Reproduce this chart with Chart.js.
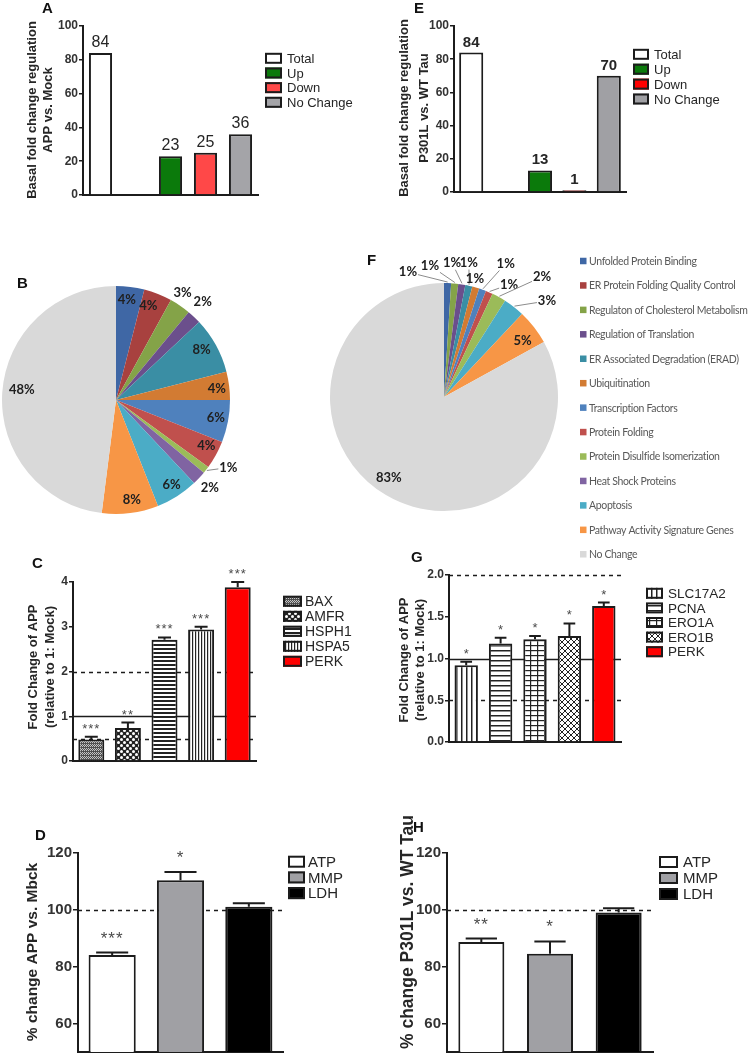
<!DOCTYPE html>
<html>
<head>
<meta charset="utf-8">
<script src="https://cdn.jsdelivr.net/npm/chart.js@4.4.1/dist/chart.umd.min.js"></script>
<style>
  html, body { margin: 0; padding: 0; background: #fff; }
  #fig { position: relative; width: 753px; height: 1062px; overflow: hidden; background: #fff; }
  #fig canvas { position: absolute; }
  .tag { position: absolute; font: bold 15px 'Liberation Sans', Arial, sans-serif; line-height: 15px; color: #111; }
</style>
</head>
<body>
<div id="fig">
  <canvas id="chartB" width="376" height="330" style="left:0;top:210px"></canvas>
  <canvas id="chartF" width="433" height="380" style="left:320px;top:210px"></canvas>
  <canvas id="chartA" width="376" height="210" style="left:0;top:0"></canvas>
  <canvas id="chartE" width="377" height="210" style="left:376px;top:0"></canvas>
  <canvas id="chartC" width="376" height="250" style="left:0;top:540px"></canvas>
  <canvas id="chartG" width="377" height="250" style="left:376px;top:540px"></canvas>
  <canvas id="chartD" width="376" height="272" style="left:0;top:790px"></canvas>
  <canvas id="chartH" width="377" height="272" style="left:376px;top:790px"></canvas>
  <div class="tag" style="left:42px;top:0">A</div>
  <div class="tag" style="left:414px;top:0">E</div>
  <div class="tag" style="left:17px;top:275px">B</div>
  <div class="tag" style="left:367px;top:252px">F</div>
  <div class="tag" style="left:32px;top:555px">C</div>
  <div class="tag" style="left:411px;top:549px">G</div>
  <div class="tag" style="left:35px;top:827px">D</div>
  <div class="tag" style="left:413px;top:819px">H</div>
</div>
<script>
// A / E: number of regulated genes (empty slot keeps the gap after "Total")
const countCats = ['Total', '', 'Up', 'Down', 'No Change'];
const countsApp = [84, null, 23, 25, 36];
const countsTau = [84, null, 13, 1, 70];
const countTicks = [0, 20, 40, 60, 80, 100];

// B / F: share of genes per pathway (%)
const pathways = ['Unfolded Protein Binding', 'ER Protein Folding Quality Control', 'Regulaton of Cholesterol Metabolism',
  'Regulation of Translation', 'ER Associated Degradation (ERAD)', 'Ubiquitination', 'Transcription Factors',
  'Protein Folding', 'Protein Disulfide Isomerization', 'Heat Shock Proteins', 'Apoptosis',
  'Pathway Activity Signature Genes', 'No Change'];
const shareApp = [4, 4, 3, 2, 8, 4, 6, 4, 1, 2, 6, 8, 48];
const shareTau = [1, 0, 1, 1, 1, 1, 1, 1, 2, 0, 3, 5, 83];

// C: qPCR fold change, APP
const genesApp = ['BAX', 'AMFR', 'HSPH1', 'HSPA5', 'PERK'];
const foldApp = [0.48, 0.74, 2.71, 2.94, 3.88];
const foldAppErr = [0.06, 0.12, 0.05, 0.06, 0.12];
const foldAppStars = ['***', '**', '***', '***', '***'];
const foldAppTicks = [0, 1, 2, 3, 4];

// G: qPCR fold change, P301L
const genesTau = ['SLC17A2', 'PCNA', 'ERO1A', 'ERO1B', 'PERK'];
const foldTau = [0.92, 1.18, 1.23, 1.27, 1.63];
const foldTauErr = [0.04, 0.07, 0.04, 0.15, 0.04];
const foldTauStars = ['*', '*', '*', '*', '*'];
const foldTauTicks = [0, 0.5, 1, 1.5, 2];

// reference lines for C / G (value, dashed?)
const foldRefs = [2, 1, 0.5];
const foldRefDashed = [true, false, true];

// D / H: mitochondrial assays
const assays = ['ATP', 'MMP', 'LDH'];
const pctApp = [84.1, 110.4, 101.1];
const pctAppErr = [0.9, 2.9, 1.2];
const pctAppStars = ['***', '*', ''];
const pctTau = [88.7, 84.6, 99.1];
const pctTauErr = [1.2, 4.3, 1.5];
const pctTauStars = ['**', '*', ''];
const pctTicks = [60, 80, 100, 120];
const pctRefs = [100];
const pctRefDashed = [true];

const SANS = "'Liberation Sans', Arial, sans-serif";
const INK = '#1c1c1c';

const pieColors = ['#3f67a5', '#a8413f', '#84a348', '#6b4f8c', '#3a8ea4', '#d27b33', '#4f81bd',
  '#c0504d', '#9bbb59', '#8064a2', '#4bacc6', '#f79646', '#d9d9d9'];

// small tiles for the hatched GraphPad bars
function tile(w, h, draw) {
  const c = document.createElement('canvas');
  c.width = w; c.height = h;
  const g = c.getContext('2d');
  g.fillStyle = '#fff';
  g.fillRect(0, 0, w, h);
  g.fillStyle = '#222';
  g.strokeStyle = '#222';
  draw(g);
  return g.createPattern(c, 'repeat');
}
const pat = {
  grain: tile(4, 4, g => {
    g.fillStyle = '#505050'; g.fillRect(0, 0, 4, 4);
    g.fillStyle = '#c4c4c4';
    [[0, 0], [2, 0], [1, 1], [3, 1], [0, 2], [2, 2]].forEach(p => g.fillRect(p[0], p[1], 1, 1));
  }),
  dots: tile(6, 6, g => {
    g.fillRect(0, 0, 6, 6);
    g.fillStyle = '#fff';
    [[1.5, 1.5], [4.5, 4.5]].forEach(p => { g.beginPath(); g.arc(p[0], p[1], 1.5, 0, Math.PI * 2); g.fill(); });
  }),
  hFine: tile(4, 4, g => g.fillRect(0, 0, 4, 2)),
  vFine: tile(3, 3, g => g.fillRect(0, 0, 1.2, 3)),
  vWide: tile(5, 5, g => g.fillRect(0, 0, 1.5, 5)),
  hWide: tile(5, 5, g => g.fillRect(0, 0, 5, 1.5)),
  grid: tile(7, 5, g => { g.fillRect(0, 0, 7, 1.2); g.fillRect(0, 0, 1.2, 5); }),
  cross: tile(6, 6, g => {
    g.lineWidth = 1;
    g.beginPath(); g.moveTo(0, 0); g.lineTo(6, 6); g.moveTo(6, 0); g.lineTo(0, 6);
    g.moveTo(-1, 5); g.lineTo(1, 7); g.moveTo(5, -1); g.lineTo(7, 1);
    g.stroke();
  })
};

// error bars, stars, value labels, reference lines, legend and y title for one bar panel
function decor(cfg) {
  return {
    id: 'decor',
    beforeDatasetsDraw(chart) {
      if (!cfg.refs) return;
      const {ctx, chartArea: a} = chart;
      const y = chart.scales.y;
      ctx.save();
      ctx.strokeStyle = INK;
      ctx.lineWidth = 1.5;
      cfg.refs.forEach((v, i) => {
        const py = Math.round(y.getPixelForValue(v)) + 0.5;
        ctx.setLineDash(cfg.refDashed[i] ? [4, 4] : []);
        ctx.beginPath(); ctx.moveTo(a.left, py); ctx.lineTo(a.right, py); ctx.stroke();
      });
      ctx.restore();
    },
    afterDraw(chart) {
      const {ctx} = chart;
      const y = chart.scales.y;
      const ds = chart.data.datasets[0];
      const bars = chart.getDatasetMeta(0).data;
      ctx.save();
      if (cfg.err) {
        ctx.strokeStyle = INK;
        ctx.lineWidth = 2;
        bars.forEach((bar, i) => {
          const top = y.getPixelForValue(ds.data[i] + cfg.err[i]);
          const half = bar.width * cfg.cap / 2;
          ctx.beginPath();
          ctx.moveTo(bar.x, bar.y); ctx.lineTo(bar.x, top);
          ctx.moveTo(bar.x - half, top); ctx.lineTo(bar.x + half, top);
          ctx.stroke();
        });
      }
      if (cfg.stars) {
        ctx.font = cfg.starFont;
        ctx.fillStyle = '#4a4a4a';
        ctx.textAlign = 'center';
        ctx.letterSpacing = cfg.starSpacing;
        bars.forEach((bar, i) => {
          if (!cfg.stars[i]) return;
          const top = y.getPixelForValue(ds.data[i] + cfg.err[i]);
          ctx.fillText(cfg.stars[i], bar.x, top - cfg.starGap);
        });
        ctx.letterSpacing = '0px';
      }
      if (cfg.valueFont) {
        ctx.font = cfg.valueFont;
        ctx.fillStyle = '#262626';
        ctx.textAlign = 'center';
        bars.forEach((bar, i) => {
          const v = ds.data[i];
          if (v == null) return;
          ctx.fillText(String(v), bar.x, bar.y - 6);
        });
      }
      const L = cfg.legend;
      let row = 0;
      chart.data.labels.forEach((lab, i) => {
        if (!lab) return;
        const cy = L.y + row * L.step;
        row++;
        ctx.fillStyle = ds.backgroundColor[i];
        ctx.fillRect(L.x, cy - L.h / 2, L.w, L.h);
        ctx.lineWidth = 2;
        ctx.strokeStyle = INK;
        ctx.strokeRect(L.x + 1, cy - L.h / 2 + 1, L.w - 2, L.h - 2);
        ctx.fillStyle = '#262626';
        ctx.font = L.font;
        ctx.textAlign = 'left';
        ctx.textBaseline = 'middle';
        ctx.fillText(lab, L.textX, cy + 1);
      });
      const T = cfg.title;
      ctx.font = T.font;
      ctx.fillStyle = '#262626';
      ctx.textAlign = 'center';
      ctx.textBaseline = 'middle';
      T.lines.forEach((line, k) => {
        ctx.save();
        ctx.translate(T.xs[k], T.cy);
        ctx.rotate(-Math.PI / 2);
        ctx.fillText(line, 0, 0);
        ctx.restore();
      });
      ctx.restore();
    }
  };
}

function barChart(id, cfg) {
  return new Chart(document.getElementById(id), {
    type: 'bar',
    data: {
      labels: cfg.labels,
      datasets: [{
        data: cfg.data,
        backgroundColor: cfg.fills,
        borderColor: INK,
        borderWidth: 2,
        barPercentage: cfg.barPct,
        categoryPercentage: 1
      }]
    },
    options: {
      responsive: false,
      animation: false,
      layout: { padding: cfg.pad },
      scales: {
        x: {
          grid: { display: true, drawOnChartArea: false, drawTicks: false },
          border: { display: true, color: INK, width: 2 },
          ticks: { display: false },
          afterFit: s => { s.height = 0; }
        },
        y: {
          min: cfg.min,
          max: cfg.max,
          afterBuildTicks: s => { s.ticks = cfg.ticks.map(v => ({ value: v })); },
          ticks: {
            font: { family: SANS, size: cfg.tickSize, weight: 'bold' },
            color: '#333',
            padding: 1,
            callback: v => cfg.decimals ? v.toFixed(cfg.decimals) : String(v)
          },
          grid: { drawOnChartArea: false, drawTicks: true, tickLength: cfg.tickLen || 4, color: INK, lineWidth: 1.5 },
          border: { display: true, color: INK, width: 2 },
          afterFit: s => { s.width = cfg.axisW; }
        }
      },
      plugins: { legend: { display: false }, tooltip: { enabled: false } }
    },
    plugins: [decor(cfg)]
  });
}

// percentage labels, leader lines and the shared pathway legend
function pieText(cfg) {
  return {
    id: 'pieText',
    afterDraw(chart) {
      const {ctx} = chart;
      const vals = chart.data.datasets[0].data;
      ctx.save();
      ctx.font = cfg.font;
      ctx.textAlign = 'center';
      ctx.textBaseline = 'middle';
      chart.getDatasetMeta(0).data.forEach((arc, i) => {
        if (!vals[i]) return;
        const mid = (arc.startAngle + arc.endAngle) / 2;
        const f = cfg.place[i][0];
        const ang = mid + cfg.place[i][1] * Math.PI / 180;
        const r = arc.outerRadius;
        const lx = arc.x + Math.cos(ang) * r * f;
        const ly = arc.y + Math.sin(ang) * r * f;
        if (cfg.leader[i]) {
          const ex = arc.x + Math.cos(mid) * (r + 1);
          const ey = arc.y + Math.sin(mid) * (r + 1);
          const dx = ex - lx, dy = ey - ly;
          const t = Math.min(10 / Math.abs(dx || 1e-6), 7 / Math.abs(dy || 1e-6));
          if (t < 1) {
            ctx.strokeStyle = '#8c8c8c';
            ctx.lineWidth = 1;
            ctx.beginPath();
            ctx.moveTo(lx + dx * t, ly + dy * t);
            ctx.lineTo(ex, ey);
            ctx.stroke();
          }
        }
        ctx.fillStyle = '#202020';
        ctx.fillText(vals[i] + '%', lx, ly);
      });
      if (cfg.legend) {
        const L = cfg.legend;
        ctx.font = L.font;
        ctx.textAlign = 'left';
        ctx.letterSpacing = L.spacing;
        chart.data.labels.forEach((lab, i) => {
          const cy = L.y + i * L.step;
          ctx.fillStyle = chart.data.datasets[0].backgroundColor[i];
          ctx.fillRect(L.x, cy - L.box / 2, L.box, L.box);
          ctx.fillStyle = '#595959';
          ctx.fillText(lab, L.textX, cy + 0.5);
        });
      }
      ctx.restore();
    }
  };
}

function pieChart(id, cfg) {
  return new Chart(document.getElementById(id), {
    type: 'pie',
    data: {
      labels: pathways,
      datasets: [{ data: cfg.data, backgroundColor: pieColors, borderWidth: 0, hoverOffset: 0 }]
    },
    options: {
      responsive: false,
      animation: false,
      radius: 114,
      layout: { padding: cfg.pad },
      plugins: { legend: { display: false }, tooltip: { enabled: false } }
    },
    plugins: [pieText(cfg)]
  });
}

barChart('chartA', {
  labels: countCats, data: countsApp,
  fills: ['#ffffff', '#ffffff', '#0b7a0b', '#ff4848', '#a4a4a8'],
  pad: { left: 0, top: 26, right: 118, bottom: 15 }, axisW: 83,
  min: 0, max: 100, ticks: countTicks, tickSize: 12, barPct: 0.66,
  valueFont: '16px ' + SANS,
  legend: { x: 265, y: 58.3, step: 14.67, w: 17, h: 11, textX: 287, font: '13px ' + SANS },
  title: { lines: ['Basal fold change regulation', 'APP vs. Mock'], xs: [32, 48], cy: 110, font: 'bold 13px ' + SANS }
});

barChart('chartE', {
  labels: countCats, data: countsTau,
  fills: ['#ffffff', '#ffffff', '#0b7a0b', '#ff0000', '#a0a0a4'],
  pad: { left: 0, top: 26, right: 127, bottom: 18 }, axisW: 78,
  min: 0, max: 100, ticks: countTicks, tickSize: 12, barPct: 0.7,
  valueFont: 'bold 15px ' + SANS,
  legend: { x: 257, y: 54.3, step: 14.9, w: 16, h: 11, textX: 278, font: '13px ' + SANS },
  title: { lines: ['Basal fold change regulation', 'P301L vs. WT Tau'], xs: [28, 48], cy: 108, font: 'bold 13px ' + SANS }
});

barChart('chartC', {
  labels: genesApp, data: foldApp,
  fills: [pat.grain, pat.dots, pat.hFine, pat.vFine, '#ff0000'],
  pad: { left: 0, top: 42, right: 120, bottom: 29 }, axisW: 73,
  min: 0, max: 4, ticks: foldAppTicks, tickSize: 12, barPct: 0.71,
  refs: foldRefs, refDashed: foldRefDashed,
  err: foldAppErr, cap: 0.5, stars: foldAppStars, starFont: '13px ' + SANS, starGap: 4, starSpacing: '1px',
  legend: { x: 283, y: 61.3, step: 15, w: 19, h: 11, textX: 305, font: '14px ' + SANS },
  title: { lines: ['Fold Change of APP', '(relative to 1: Mock)'], xs: [33, 50], cy: 127, font: 'bold 13px ' + SANS }
});

barChart('chartG', {
  labels: genesTau, data: foldTau,
  fills: [pat.vWide, pat.hWide, pat.grid, pat.cross, '#ff0000'],
  pad: { left: 0, top: 35, right: 132, bottom: 48 }, axisW: 73, decimals: 1,
  min: 0, max: 2, ticks: foldTauTicks, tickSize: 12, barPct: 0.68,
  refs: foldRefs, refDashed: foldRefDashed,
  err: foldTauErr, cap: 0.5, stars: foldTauStars, starFont: '13px ' + SANS, starGap: 4, starSpacing: '0px',
  legend: { x: 270, y: 53.3, step: 14.6, w: 17, h: 11, textX: 292, font: '13.5px ' + SANS },
  title: { lines: ['Fold Change of APP', '(relative to 1: Mock)'], xs: [28, 44], cy: 120, font: 'bold 13px ' + SANS }
});

barChart('chartD', {
  labels: assays, data: pctApp,
  fills: ['#ffffff', '#a0a0a4', '#000000'],
  pad: { left: 0, top: 63, right: 93, bottom: 7 }, axisW: 78,
  min: 50, max: 120, ticks: pctTicks, tickSize: 15, tickLen: 5, barPct: 0.69,
  refs: pctRefs, refDashed: pctRefDashed,
  err: pctAppErr, cap: 0.68, stars: pctAppStars, starFont: '17px ' + SANS, starGap: 9, starSpacing: '1px',
  legend: { x: 288, y: 71.7, step: 15.7, w: 17, h: 12, textX: 308, font: '15px ' + SANS },
  title: { lines: ['% change APP vs. Mbck'], xs: [33], cy: 162, font: 'bold 15.5px ' + SANS }
});

barChart('chartH', {
  labels: assays, data: pctTau,
  fills: ['#ffffff', '#a0a0a4', '#000000'],
  pad: { left: 0, top: 63, right: 100, bottom: 9 }, axisW: 71,
  min: 50, max: 120, ticks: pctTicks, tickSize: 15, tickLen: 5, barPct: 0.67,
  refs: pctRefs, refDashed: pctRefDashed,
  err: pctTauErr, cap: 0.68, stars: pctTauStars, starFont: '17px ' + SANS, starGap: 9, starSpacing: '1px',
  legend: { x: 283, y: 72, step: 16, w: 19, h: 12, textX: 307, font: '15px ' + SANS },
  title: { lines: ['% change P301L vs. WT Tau'], xs: [32], cy: 142, font: 'bold 17.5px ' + SANS }
});

// label placement per slice: [radius factor, angle shift in degrees]
pieChart('chartB', {
  data: shareApp,
  pad: { left: 0, top: 74, right: 144, bottom: 24 },
  font: 'bold 13px Lato, sans-serif',
  place: [[0.88, -1], [0.87, -2.6], [1.11, -2.4], [1.15, -1.8], [0.87, -1.5], [0.89, 0.6], [0.89, -0.5],
    [0.89, -1.8], [1.15, -6.8], [1.13, 0], [0.89, -0.8], [0.89, -1.8], [0.83, 2.4]],
  leader: [0, 0, 0, 0, 0, 0, 0, 0, 1, 0, 0, 0, 0]
});

pieChart('chartF', {
  data: shareTau,
  pad: { left: 4, top: 67, right: 189, bottom: 73 },
  font: 'bold 13px Lato, sans-serif',
  place: [[1.14, -17.9], [1, 0], [1.16, -11.5], [1.18, -5.6], [1.2, -2.1], [1.07, -1.5], [1.29, 5],
    [1.14, 6.7], [1.36, 10.4], [1, 0], [1.235, 9.2], [0.85, 2], [0.86, 3.6]],
  leader: [1, 0, 1, 1, 1, 0, 1, 1, 1, 0, 1, 0, 0],
  legend: { x: 260, y: 51, step: 24.44, box: 6.5, textX: 269, font: '10.5px Lato, sans-serif', spacing: '-0.35px' }
});
</script>
</body>
</html>
